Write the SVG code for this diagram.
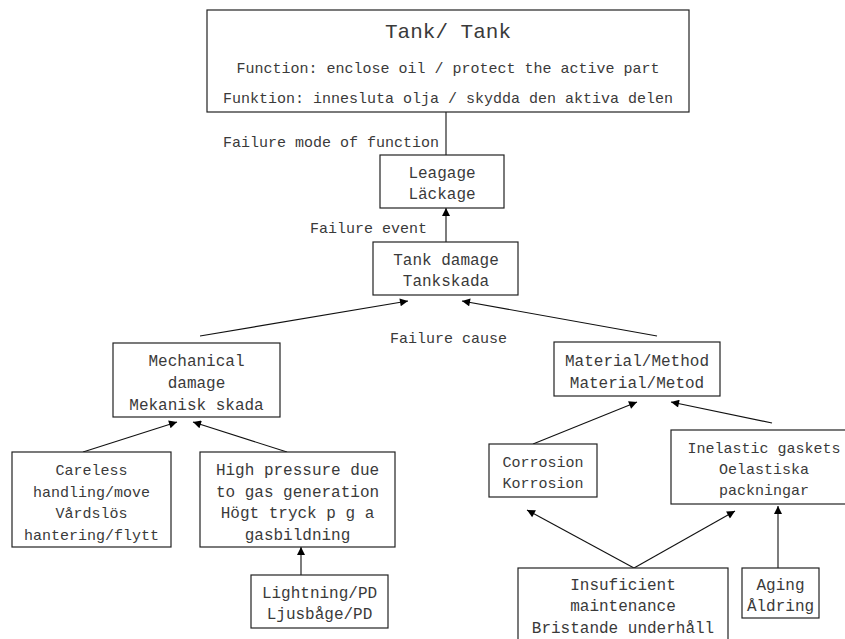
<svg xmlns="http://www.w3.org/2000/svg" width="845" height="639" viewBox="0 0 845 639">
  <style>
    .box { fill: #ffffff; stroke: #222222; stroke-width: 1.2; }
    .t { font-family: "Liberation Mono", "DejaVu Sans Mono", monospace; font-size: 16px; fill: #3a3a3a; text-anchor: middle; }
    .s { font-size: 15px; }
    .lbl { font-family: "Liberation Mono", "DejaVu Sans Mono", monospace; font-size: 15px; fill: #3a3a3a; }
    .big { font-size: 21px; }
    .edge { fill: none; stroke: #111111; stroke-width: 1.1; }
    .arrow { marker-end: url(#head); }
  </style>
  <defs>
    <marker id="head" viewBox="0 0 10 10" refX="10" refY="5" markerWidth="9" markerHeight="8" markerUnits="userSpaceOnUse" orient="auto">
      <path d="M0,0 L10,5 L0,10 z" fill="#000000"/>
    </marker>
  </defs>
  <rect width="845" height="639" fill="#ffffff"/>

  <!-- connectors -->
  <g id="connectors">
    <line class="edge" x1="446" y1="112" x2="446" y2="155"/>
    <line class="edge arrow" x1="446" y1="242" x2="446" y2="208"/>
    <line class="edge arrow" x1="200" y1="336" x2="408" y2="301"/>
    <line class="edge arrow" x1="657" y1="336" x2="462" y2="301"/>
    <line class="edge arrow" x1="83" y1="452" x2="177" y2="422"/>
    <line class="edge arrow" x1="287" y1="452" x2="193" y2="422"/>
    <line class="edge arrow" x1="301" y1="575" x2="301" y2="547"/>
    <line class="edge arrow" x1="533" y1="444" x2="637" y2="402"/>
    <line class="edge arrow" x1="772" y1="423" x2="671" y2="402"/>
    <line class="edge arrow" x1="634" y1="568" x2="527" y2="510"/>
    <line class="edge arrow" x1="634" y1="568" x2="735" y2="511"/>
    <line class="edge arrow" x1="778" y1="568" x2="778" y2="506"/>
  </g>

  <!-- connector labels -->
  <g id="labels">
    <text class="lbl" x="223" y="147">Failure mode of function</text>
    <text class="lbl" x="310" y="233">Failure event</text>
    <text class="lbl" x="390" y="343">Failure cause</text>
  </g>

  <g id="tank">
    <rect class="box" x="207" y="10" width="482" height="102"/>
    <text class="t big" x="448" y="38">Tank/ Tank</text>
    <text class="t s" x="448" y="73">Function: enclose oil / protect the active part</text>
    <text class="t s" x="448" y="103">Funktion: innesluta olja / skydda den aktiva delen</text>
  </g>

  <g id="leakage">
    <rect class="box" x="380" y="155" width="124" height="53"/>
    <text class="t" x="442" y="178">Leagage</text>
    <text class="t" x="442" y="199">Läckage</text>
  </g>

  <g id="tank-damage">
    <rect class="box" x="373" y="242" width="145" height="53"/>
    <text class="t" x="446" y="265">Tank damage</text>
    <text class="t" x="446" y="286">Tankskada</text>
  </g>

  <g id="mechanical">
    <rect class="box" x="113" y="343" width="167" height="74"/>
    <text class="t" x="196.5" y="366">Mechanical</text>
    <text class="t" x="196.5" y="388">damage</text>
    <text class="t" x="196.5" y="410">Mekanisk skada</text>
  </g>

  <g id="material">
    <rect class="box" x="554" y="342" width="166" height="54"/>
    <text class="t" x="637" y="366">Material/Method</text>
    <text class="t" x="637" y="388">Material/Metod</text>
  </g>

  <g id="careless">
    <rect class="box" x="12" y="452" width="159" height="95"/>
    <text class="t s" x="91.5" y="475">Careless</text>
    <text class="t s" x="91.5" y="497">handling/move</text>
    <text class="t s" x="91.5" y="518">Vårdslös</text>
    <text class="t s" x="91.5" y="540">hantering/flytt</text>
  </g>

  <g id="high-pressure">
    <rect class="box" x="200" y="452" width="195" height="95"/>
    <text class="t" x="297.5" y="475">High pressure due</text>
    <text class="t" x="297.5" y="497">to gas generation</text>
    <text class="t" x="297.5" y="518">Högt tryck p g a</text>
    <text class="t" x="297.5" y="540">gasbildning</text>
  </g>

  <g id="lightning">
    <rect class="box" x="251" y="575" width="137" height="53"/>
    <text class="t" x="319.5" y="598">Lightning/PD</text>
    <text class="t" x="319.5" y="619">Ljusbåge/PD</text>
  </g>

  <g id="corrosion">
    <rect class="box" x="489" y="444" width="108" height="53"/>
    <text class="t s" x="543" y="467">Corrosion</text>
    <text class="t s" x="543" y="488">Korrosion</text>
  </g>

  <g id="gaskets">
    <rect class="box" x="671" y="430" width="186" height="74"/>
    <text class="t s" x="764" y="453">Inelastic gaskets</text>
    <text class="t s" x="764" y="474">Oelastiska</text>
    <text class="t s" x="764" y="495">packningar</text>
  </g>

  <g id="maintenance">
    <rect class="box" x="518" y="568" width="210" height="80"/>
    <text class="t" x="623" y="590">Insuficient</text>
    <text class="t" x="623" y="611">maintenance</text>
    <text class="t" x="623" y="633">Bristande underhåll</text>
  </g>

  <g id="aging">
    <rect class="box" x="742" y="568" width="77" height="50"/>
    <text class="t" x="780.5" y="590">Aging</text>
    <text class="t" x="780.5" y="611">Åldring</text>
  </g>
</svg>
